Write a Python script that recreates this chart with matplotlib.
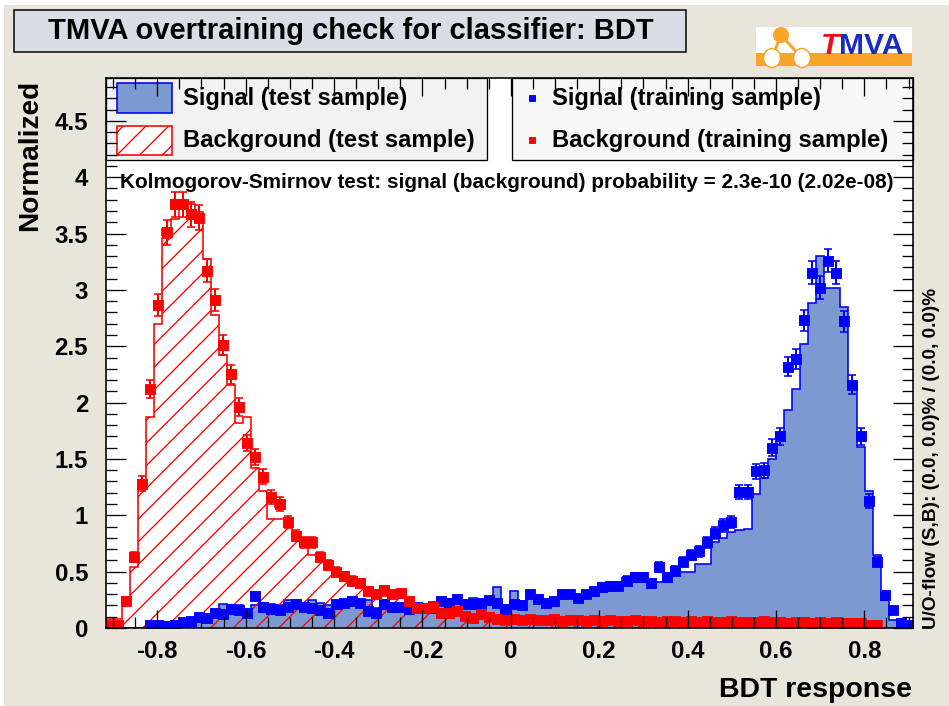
import matplotlib
matplotlib.use("Agg")
import matplotlib.pyplot as plt
import matplotlib.patches as mpatches
import matplotlib.lines as mlines
import numpy as np

# ---- data (100 bins of BDT response) ----
x_min, x_max = -0.916, 0.910
n_bins = 100

sig_test = [0, 0, 0, 0, 0, 0.02, 0.03, 0.03, 0.04, 0.05,
            0.05, 0.08, 0.10, 0.15, 0.21, 0.18, 0.20, 0.17, 0.20, 0.22,
            0.21, 0.20, 0.25, 0.25, 0.22, 0.25, 0.22, 0.20, 0.21, 0.23,
            0.20, 0.22, 0.25, 0.18, 0.25, 0.21, 0.20, 0.22, 0.19, 0.21,
            0.23, 0.20, 0.25, 0.27, 0.24, 0.27, 0.25, 0.26, 0.36, 0.20,
            0.33, 0.24, 0.26, 0.23, 0.22, 0.25, 0.30, 0.29, 0.28, 0.32,
            0.33, 0.35, 0.37, 0.38, 0.38, 0.41, 0.41, 0.41, 0.41, 0.44,
            0.48, 0.50, 0.50, 0.57, 0.57, 0.76, 0.80, 0.85, 0.87, 0.88,
            1.19, 1.33, 1.50, 1.72, 1.93, 2.12, 2.52, 2.88, 3.30, 3.02,
            3.02, 2.85, 2.16, 1.61, 1.22, 0.65, 0.25, 0.07, 0.02, 0.01]

sig_train = [0, 0, 0, 0, 0, 0.03, 0.03, 0.02, 0.03, 0.05,
             0.06, 0.10, 0.09, 0.13, 0.12, 0.17, 0.16, 0.13, 0.28, 0.19,
             0.17, 0.16, 0.19, 0.21, 0.19, 0.18, 0.16, 0.13, 0.21, 0.22,
             0.24, 0.22, 0.15, 0.13, 0.21, 0.19, 0.19, 0.17, 0.19, 0.18,
             0.18, 0.24, 0.22, 0.26, 0.21, 0.21, 0.22, 0.25, 0.22, 0.17,
             0.21, 0.20, 0.30, 0.26, 0.22, 0.24, 0.30, 0.30, 0.27, 0.30,
             0.33, 0.36, 0.37, 0.37, 0.42, 0.45, 0.45, 0.40, 0.54, 0.45,
             0.51, 0.59, 0.65, 0.68, 0.76, 0.84, 0.91, 0.94, 1.21, 1.21,
             1.39, 1.40, 1.60, 1.70, 2.32, 2.39, 2.73, 3.15, 3.02, 3.26,
             3.15, 2.72, 2.16, 1.70, 1.13, 0.59, 0.29, 0.16, 0.04, 0.03]

bkg_test = [0.08, 0.08, 0.27, 0.54, 1.27, 1.87, 2.70, 3.46, 3.63, 3.78,
            3.76, 3.69, 3.27, 2.78, 2.42, 2.16, 1.82, 1.87, 1.42, 1.22,
            0.97, 0.97, 0.90, 0.79, 0.72, 0.65, 0.60, 0.55, 0.52, 0.45,
            0.40, 0.38, 0.32, 0.30, 0.28, 0.28, 0.27, 0.22, 0.18, 0.15,
            0.15, 0.13, 0.13, 0.12, 0.10, 0.11, 0.10, 0.09, 0.10, 0.09,
            0.10, 0.09, 0.10, 0.09, 0.10, 0.09, 0.08, 0.09, 0.08, 0.08,
            0.09, 0.08, 0.07, 0.08, 0.07, 0.07, 0.08, 0.07, 0.06, 0.07,
            0.07, 0.06, 0.07, 0.06, 0.07, 0.06, 0.06, 0.07, 0.06, 0.06,
            0.06, 0.07, 0.06, 0.06, 0.05, 0.06, 0.06, 0.05, 0.06, 0.05,
            0.06, 0.05, 0.05, 0.05, 0.04, 0.03, 0, 0, 0, 0]

bkg_train = [0.03, 0.03, 0.24, 0.63, 1.28, 2.12, 2.87, 3.51, 3.76, 3.76,
             3.67, 3.64, 3.17, 2.91, 2.51, 2.25, 1.96, 1.64, 1.52, 1.34,
             1.16, 1.10, 0.94, 0.82, 0.76, 0.76, 0.63, 0.56, 0.50, 0.46,
             0.42, 0.40, 0.33, 0.30, 0.34, 0.30, 0.31, 0.24, 0.18, 0.18,
             0.19, 0.13, 0.13, 0.15, 0.11, 0.09, 0.12, 0.10, 0.08, 0.07,
             0.08, 0.07, 0.08, 0.07, 0.07, 0.08, 0.06, 0.07, 0.07, 0.06,
             0.07, 0.06, 0.07, 0.06, 0.06, 0.07, 0.06, 0.06, 0.05, 0.06,
             0.06, 0.05, 0.06, 0.05, 0.06, 0.05, 0.05, 0.06, 0.05, 0.05,
             0.05, 0.06, 0.05, 0.05, 0.04, 0.05, 0.05, 0.04, 0.05, 0.04,
             0.05, 0.04, 0.04, 0.04, 0.03, 0.03, 0, 0, 0, 0]

err_scale = 0.0033  # poisson-like error: sqrt(value * err_scale)

title = "TMVA overtraining check for classifier: BDT"
ks_text = "Kolmogorov-Smirnov test: signal (background) probability = 2.3e-10 (2.02e-08)"
flow_text = "U/O-flow (S,B): (0.0, 0.0)% / (0.0, 0.0)%"

# ---- figure setup ----
W, H = 949, 706
DPI = 136
P = 72.0 / DPI  # points per pixel
FONT = "Liberation Sans"
plt.rcParams['font.family'] = [FONT, 'DejaVu Sans']
plt.rcParams['hatch.linewidth'] = 1.0 * P * 1.3

BG = '#e8e6da'
SIG_FILL = '#7d99d1'
BLUE = '#0000ff'
RED = '#ff0000'

fig = plt.figure(figsize=(W / DPI, H / DPI), dpi=DPI, facecolor='white')

def fx(px):
    return px / W

def fy(py):
    return 1 - py / H

# canvas background (thin white frame on top/left)
fig.patches.append(mpatches.Rectangle((fx(4), 0), 1, fy(5), transform=fig.transFigure,
                                      facecolor=BG, edgecolor='none', zorder=-5))

# title box
fig.patches.append(mpatches.Rectangle((fx(14), fy(52)), fx(686) - fx(14), fy(10) - fy(52),
                                      transform=fig.transFigure, facecolor='#d9dee6',
                                      edgecolor='black', linewidth=1.5 * P, zorder=1))
fig.text(fx(351), fy(31), title, ha='center', va='center', fontsize=28.6 * P * 1.02,
         fontweight='bold', color='black')

# TMVA logo (approximation)
ORANGE = '#f8a52a'
fig.patches.append(mpatches.Rectangle((fx(756), fy(66)), fx(912) - fx(756), fy(27) - fy(66),
                                      transform=fig.transFigure, facecolor='white',
                                      edgecolor='none', zorder=1))
fig.patches.append(mpatches.Rectangle((fx(756), fy(66)), fx(912) - fx(756), fy(53) - fy(66),
                                      transform=fig.transFigure, facecolor=ORANGE,
                                      edgecolor='none', zorder=2))
for (x0, y0), (x1, y1) in [((781, 35), (772, 58)), ((781, 35), (802, 58)), ((772, 58), (802, 58))]:
    fig.lines.append(mlines.Line2D([fx(x0), fx(x1)], [fy(y0), fy(y1)], transform=fig.transFigure,
                                   color=ORANGE, linewidth=3 * P, zorder=3))
fig.patches.append(mpatches.Ellipse((fx(781), fy(35)), 16 / W, 16 / H, transform=fig.transFigure,
                                    facecolor=ORANGE, edgecolor='none', zorder=4))
for cx in (772, 802):
    fig.patches.append(mpatches.Ellipse((fx(cx), fy(58)), 17 / W, 19 / H, transform=fig.transFigure,
                                        facecolor='white', edgecolor=ORANGE, linewidth=1.5 * P, zorder=4))
fig.text(fx(821), fy(46), "T", ha='left', va='center', fontsize=30 * P, fontweight='bold',
         style='italic', color='#e81010', zorder=5)
fig.text(fx(839), fy(46), "MVA", ha='left', va='center', fontsize=30 * P, fontweight='bold',
         color='#1a2bc4', zorder=5)

# ---- main axes ----
L, R, T, B = 106, 913, 78, 628
ax = fig.add_axes([fx(L), fy(B), (R - L) / W, (B - T) / H])
ax.set_facecolor('white')
ax.set_axisbelow(False)  # tick marks drawn over histograms and legend boxes

edges = np.linspace(x_min, x_max, n_bins + 1)
centers = 0.5 * (edges[:-1] + edges[1:])
half_w = 0.5 * (edges[1] - edges[0])

sig_test = np.array(sig_test)
sig_train = np.array(sig_train)
bkg_test = np.array(bkg_test)
bkg_train = np.array(bkg_train)

# signal test: filled histogram
ax.stairs(sig_test, edges, fill=True, facecolor=SIG_FILL, edgecolor='none', zorder=1)
ax.stairs(sig_test, edges, color=BLUE, linewidth=1.6 * P, zorder=1.1)
# background test: hatched histogram
ax.stairs(bkg_test, edges, fill=True, facecolor='none', edgecolor=RED, hatch='//',
          linewidth=0, zorder=1.2)
ax.stairs(bkg_test, edges, color=RED, linewidth=1.6 * P, zorder=1.3)

# training samples: markers with errors
for vals, col, z in [(sig_train, BLUE, 1.5), (bkg_train, RED, 1.6)]:
    m = vals > 0
    ax.errorbar(centers[m], vals[m], xerr=half_w, yerr=np.sqrt(vals[m] * err_scale),
                fmt='s', color=col, markersize=9 * P, elinewidth=2 * P,
                capsize=4 * P, capthick=1.6 * P, zorder=z)

ax.set_xlim(x_min, x_max)
ax.set_ylim(0, 4.88)
ax.set_xticks(np.arange(-0.8, 0.81, 0.2))
ax.set_xticks(np.arange(-0.9, 0.91, 0.05), minor=True)
ax.set_yticks(np.arange(0, 4.51, 0.5))
ax.set_yticks(np.arange(0, 4.81, 0.1), minor=True)
ax.set_xticklabels(['-0.8', '-0.6', '-0.4', '-0.2', '0', '0.2', '0.4', '0.6', '0.8'])
ax.set_yticklabels(['0', '0.5', '1', '1.5', '2', '2.5', '3', '3.5', '4', '4.5'])
ax.tick_params(which='both', direction='in', top=True, right=True, width=1.3 * P)
ax.tick_params(which='major', length=20 * P, labelsize=24 * P)
ax.tick_params(which='minor', length=11 * P)
ax.tick_params(axis='x', which='major', length=18 * P, pad=12 * P)
ax.tick_params(axis='y', which='major', pad=18 * P)
for lab in ax.get_xticklabels() + ax.get_yticklabels():
    lab.set_fontweight('bold')
for sp in ax.spines.values():
    sp.set_linewidth(1.6 * P)


def ax_xy(px, py):
    return (px - L) / (R - L), (B - py) / (B - T)


# legend boxes (under the tick marks)
for (x0, x1), fc in [((L, 487), '#f2f2f2'), ((512, R), '#f7f7f7')]:
    a0 = ax_xy(x0, 160)
    a1 = ax_xy(x1, T)
    ax.add_patch(mpatches.Rectangle(a0, a1[0] - a0[0], a1[1] - a0[1], transform=ax.transAxes,
                                    facecolor=fc, edgecolor='black', linewidth=1.3 * P,
                                    zorder=0.8, clip_on=False))

p0 = ax_xy(117, 113)
p1 = ax_xy(172, 83)
ax.add_patch(mpatches.Rectangle(p0, p1[0] - p0[0], p1[1] - p0[1], transform=ax.transAxes,
                                facecolor=SIG_FILL, edgecolor=BLUE, linewidth=1.6 * P, zorder=2.1))
p0 = ax_xy(117, 155)
p1 = ax_xy(172, 126)
ax.add_patch(mpatches.Rectangle(p0, p1[0] - p0[0], p1[1] - p0[1], transform=ax.transAxes,
                                facecolor='white', edgecolor=RED, hatch='//',
                                linewidth=1.6 * P, zorder=2.1))

LEG_FS = 23.8 * P
for py, label in [(98, "Signal (test sample)"), (140, "Background (test sample)")]:
    ax.text(*ax_xy(183, py), label, transform=ax.transAxes, ha='left', va='center',
            fontsize=LEG_FS, fontweight='bold', zorder=2.2)
for py, label, col in [(98, "Signal (training sample)", BLUE),
                       (140, "Background (training sample)", RED)]:
    ax.plot(*ax_xy(532, py), 's', color=col, markersize=5 * P, transform=ax.transAxes, zorder=2.2,
            clip_on=False)
    ax.text(*ax_xy(552, py), label, transform=ax.transAxes, ha='left', va='center',
            fontsize=LEG_FS, fontweight='bold', zorder=2.2)

ax.text(*ax_xy(120, 183), ks_text, transform=ax.transAxes, ha='left', va='center',
        fontsize=20.8 * P, fontweight='bold', zorder=2.2)

# axis titles (ROOT style: aligned to the axis end)
fig.text(fx(30), fy(80), "Normalized", rotation=90, ha='center', va='top',
         fontsize=28 * P, fontweight='bold')
fig.text(fx(912), fy(690), "BDT response", ha='right', va='center',
         fontsize=28.5 * P, fontweight='bold')
fig.text(fx(931), fy(629), flow_text, rotation=90, ha='center', va='bottom',
         fontsize=19 * P, fontweight='bold')

fig.savefig("out.png", dpi=DPI, facecolor=fig.get_facecolor())
